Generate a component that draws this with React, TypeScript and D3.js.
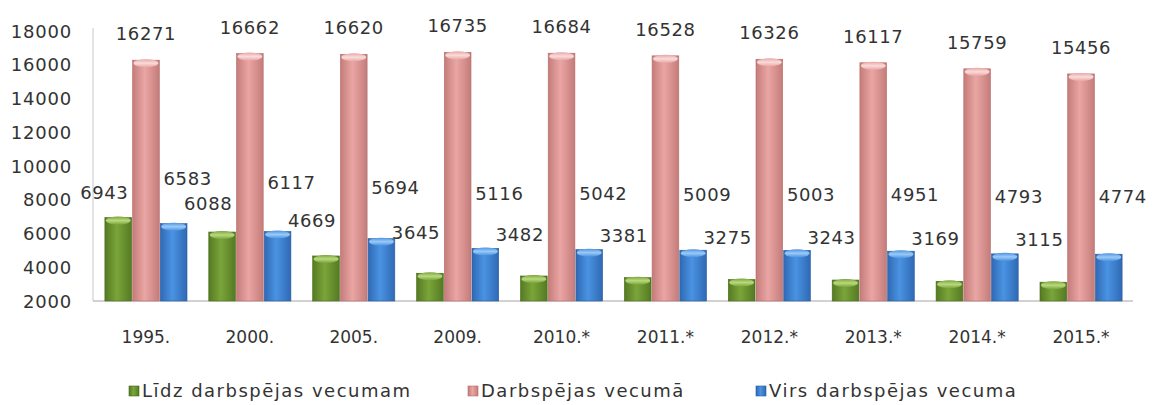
import * as d3 from "d3";
import { useEffect, useRef } from "react";

const years = ["1995.", "2000.", "2005.", "2009.", "2010.*", "2011.*", "2012.*", "2013.*", "2014.*", "2015.*"];
const seriesNames = ["Līdz darbspējas vecumam", "Darbspējas vecumā", "Virs darbspējas vecuma"];
const belowAge = [6943, 6088, 4669, 3645, 3482, 3381, 3275, 3243, 3169, 3115];
const workingAge = [16271, 16662, 16620, 16735, 16684, 16528, 16326, 16117, 15759, 15456];
const aboveAge = [6583, 6117, 5694, 5116, 5042, 5009, 5003, 4951, 4793, 4774];
const yTicks = [2000, 4000, 6000, 8000, 10000, 12000, 14000, 16000, 18000];

// edge, middle, cap colours per series
const palette = [
    { edge: "#557a22", mid: "#7aa53a", cap: "#b9d97e", stroke: "#4a6a1c" },
    { edge: "#c47c7a", mid: "#eaa6a4", cap: "#f8dcdb", stroke: "#b36d6b" },
    { edge: "#2f69b4", mid: "#4a93e3", cap: "#9ccaf5", stroke: "#2a5c9e" },
];

export default function App() {
    const ref = useRef<SVGSVGElement | null>(null);
    const width = 1163;
    const height = 405;

    useEffect(() => {
        if (!ref.current) return;
        const svg = d3.select(ref.current);
        svg.selectAll("*").remove();

        const font = "'DejaVu Sans', sans-serif";
        const values = [belowAge, workingAge, aboveAge];

        const x = d3.scaleBand<string>().domain(years).range([94, 1133]).paddingInner(0.2).paddingOuter(0.1);
        const xs = d3.scaleBand<number>().domain([0, 1, 2]).range([0, x.bandwidth()]);
        const y = d3.scaleLinear().domain([2000, 18000]).range([301, 31]);

        const defs = svg.append("defs");
        palette.forEach((p, i) => {
            const g = defs.append("linearGradient").attr("id", `face${i}`).attr("x1", 0).attr("x2", 1).attr("y1", 0).attr("y2", 0);
            g.append("stop").attr("offset", "0%").attr("stop-color", p.edge);
            g.append("stop").attr("offset", "45%").attr("stop-color", p.mid);
            g.append("stop").attr("offset", "100%").attr("stop-color", p.edge);
            const c = defs.append("linearGradient").attr("id", `cap${i}`).attr("x1", 0).attr("x2", 0).attr("y1", 0).attr("y2", 1);
            c.append("stop").attr("offset", "0%").attr("stop-color", p.mid);
            c.append("stop").attr("offset", "50%").attr("stop-color", p.cap);
            c.append("stop").attr("offset", "100%").attr("stop-color", p.mid);
        });

        // axes lines
        svg.append("line").attr("x1", 93).attr("x2", 93).attr("y1", 28).attr("y2", y(2000))
            .attr("stroke", "#c8c8c8").attr("stroke-width", 1);
        svg.append("line").attr("x1", 93).attr("x2", 1133).attr("y1", y(2000)).attr("y2", y(2000))
            .attr("stroke", "#a6a6a6").attr("stroke-width", 1.2);

        svg.append("g")
            .selectAll("text")
            .data(yTicks)
            .join("text")
            .attr("x", 72)
            .attr("y", d => y(d) + 6.5)
            .attr("text-anchor", "end")
            .attr("font-family", font)
            .attr("font-size", 18)
            .attr("letter-spacing", 0.8)
            .attr("fill", "#333")
            .text(d => d);

        // bars
        values.forEach((vals, s) => {
            const g = svg.append("g");
            const w = xs.bandwidth();
            vals.forEach((v, i) => {
                const x0 = (x(years[i]) ?? 0) + (xs(s) ?? 0);
                const top = y(v);
                g.append("rect")
                    .attr("x", x0 + 0.5)
                    .attr("y", top)
                    .attr("width", w - 1)
                    .attr("height", y(2000) - top)
                    .attr("fill", `url(#face${s})`)
                    .attr("stroke", palette[s].stroke)
                    .attr("stroke-width", 0.6);
                g.append("ellipse")
                    .attr("cx", x0 + w / 2)
                    .attr("cy", top + 3)
                    .attr("rx", w / 2 - 1.5)
                    .attr("ry", 4)
                    .attr("fill", `url(#cap${s})`);
            });
        });

        // data labels
        const labelText = (sel: any) =>
            sel.attr("font-family", font).attr("font-size", 18).attr("letter-spacing", 0.6)
                .attr("fill", "#333").attr("text-anchor", "middle");

        const w = xs.bandwidth();
        svg.append("g").selectAll("text").data(belowAge).join("text")
            .call(labelText)
            .attr("x", (d, i) => (x(years[i]) ?? 0) + (xs(0) ?? 0) + w / 2 - 14)
            .attr("y", d => 0.72 * y(d) + 36 + 6.5)
            .text(d => d);
        svg.append("g").selectAll("text").data(workingAge).join("text")
            .call(labelText)
            .attr("x", (d, i) => (x(years[i]) ?? 0) + (xs(1) ?? 0) + w / 2)
            .attr("y", d => y(d) - 20)
            .text(d => d);
        svg.append("g").selectAll("text").data(aboveAge).join("text")
            .call(labelText)
            .attr("x", (d, i) => (x(years[i]) ?? 0) + (xs(2) ?? 0) + w / 2 + 14)
            .attr("y", d => 0.6 * y(d) + 44 + 6.5)
            .text(d => d);

        // category labels
        svg.append("g").selectAll("text").data(years).join("text")
            .attr("x", d => (x(d) ?? 0) + x.bandwidth() / 2)
            .attr("y", 343)
            .attr("text-anchor", "middle")
            .attr("font-family", font)
            .attr("font-size", 17)
            .attr("fill", "#333")
            .text(d => d);

        // legend
        const legendX = [129, 468, 756];
        const leg = svg.append("g").selectAll("g").data(seriesNames).join("g")
            .attr("transform", (d, i) => `translate(${legendX[i]},0)`);
        leg.append("rect")
            .attr("x", 0).attr("y", 386).attr("width", 10).attr("height", 10)
            .attr("fill", (d, i) => `url(#face${i})`)
            .attr("stroke", (d, i) => palette[i].stroke).attr("stroke-width", 0.6);
        leg.append("text")
            .attr("x", 13).attr("y", 397)
            .attr("font-family", font)
            .attr("font-size", 18)
            .attr("letter-spacing", 1.5)
            .attr("fill", "#333")
            .text(d => d);
    }, []);

    return (
        <svg
            ref={ref}
            width={width}
            height={height}
            style={{ position: "absolute", left: 0, top: 0, background: "#fff" }}
        />
    );
}
